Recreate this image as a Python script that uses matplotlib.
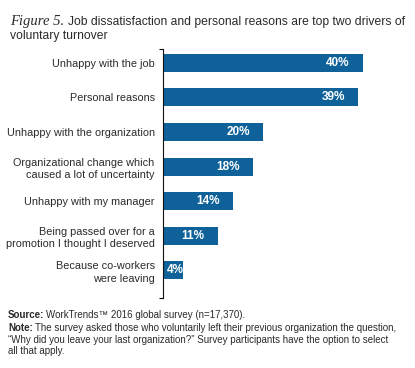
import matplotlib
matplotlib.use("Agg")
import matplotlib.pyplot as plt

plt.rcParams["font.family"] = ["Liberation Sans", "DejaVu Sans"]

reasons = [
    "Unhappy with the job",
    "Personal reasons",
    "Unhappy with the organization",
    "Organizational change which\ncaused a lot of uncertainty",
    "Unhappy with my manager",
    "Being passed over for a\npromotion I thought I deserved",
    "Because co-workers\nwere leaving",
]
shares = [40, 39, 20, 18, 14, 11, 4]

BAR = "#0E6199"
TXT = "#2a2a2a"
W, H = 415, 368

fig = plt.figure(figsize=(W / 100, H / 100), dpi=100)
ax = fig.add_axes([163 / W, 1 - 298 / H, 250 / W, 249 / H])

y = range(len(reasons))
ax.barh(y, shares, height=0.52, color=BAR)
ax.set_xlim(0, 50)
ax.set_ylim(6.8, -0.4)

for yi, v in zip(y, shares):
    xc = max(v - 5, v / 2 + 0.4)
    ax.text(xc, yi, f"{v}%", ha="center", va="center", color="white",
            fontsize=8.5, fontweight="bold")

ax.set_yticks(list(y))
ax.set_yticklabels(reasons, fontsize=7.8, color=TXT, linespacing=1.3)
ax.tick_params(axis="y", which="major", length=0, pad=6)
ax.set_yticks([-0.4, 6.8], minor=True)
ax.tick_params(axis="y", which="minor", length=3, width=0.8, direction="out")
ax.set_xticks([])
for s in ["top", "right", "bottom"]:
    ax.spines[s].set_visible(False)
ax.spines["left"].set_linewidth(0.8)
ax.spines["left"].set_color("#111111")

# title: italic serif "Figure 5." followed by sans text
fig.canvas.draw()
r = fig.canvas.get_renderer()
t1 = fig.text(10 / W, 1 - 25 / H, "Figure 5.", fontsize=10.5, style="italic",
              family="Liberation Serif", color=TXT, va="baseline")
bb = t1.get_window_extent(renderer=r)
fig.text((bb.x1 + 4) / W, 1 - 25 / H,
         "Job dissatisfaction and personal reasons are top two drivers of",
         fontsize=8.7, color=TXT, va="baseline")
fig.text(10 / W, 1 - 39 / H, "voluntary turnover", fontsize=8.7,
         color=TXT, va="baseline")

FS = 7.0


def lead(xpx, ypx, head, rest):
    t = fig.text(xpx / W, 1 - ypx / H, head, fontsize=FS, fontweight="bold",
                 color=TXT, va="baseline")
    b = t.get_window_extent(renderer=r)
    fig.text((b.x1 + 2) / W, 1 - ypx / H, rest, fontsize=FS,
             color=TXT, va="baseline")


lead(8, 318, "Source:", "WorkTrends\u2122 2016 global survey (n=17,370).")
lead(8, 331, "Note:", "The survey asked those who voluntarily left their previous "
     "organization the question,")
fig.text(8 / W, 1 - 343 / H, "\u201cWhy did you leave your last organization?\u201d "
         "Survey participants have the option to select", fontsize=FS,
         color=TXT, va="baseline")
fig.text(8 / W, 1 - 354 / H, "all that apply.", fontsize=FS,
         color=TXT, va="baseline")

fig.savefig("out.png", dpi=100)
